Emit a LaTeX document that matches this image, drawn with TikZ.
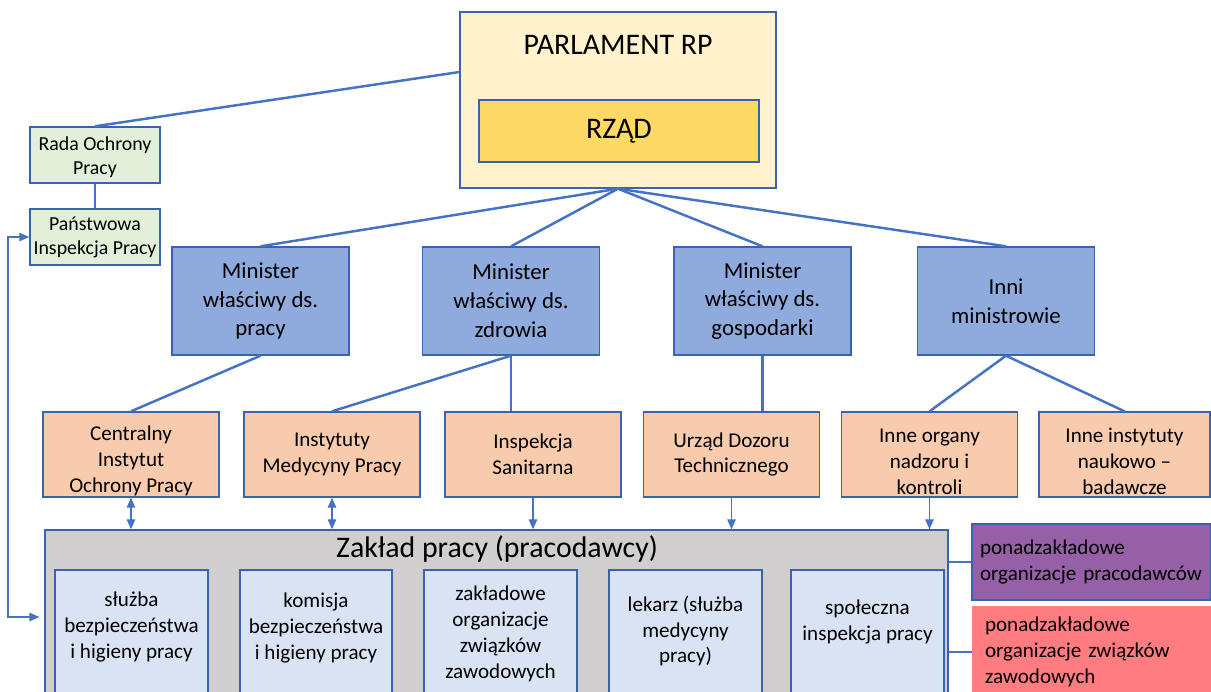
\documentclass[tikz,border=0pt]{standalone}
\usepackage{fontspec}
\setmainfont{Carlito}
\usetikzlibrary{arrows.meta, positioning, calc}
\usepackage{xcolor}

\definecolor{linkblue}{HTML}{4472C4}
\definecolor{edgeblue}{HTML}{3A63AE}
\definecolor{parlfill}{HTML}{FFF2CC}
\definecolor{rzadfill}{HTML}{FFD966}
\definecolor{radafill}{HTML}{E2F0D9}
\definecolor{ministerfill}{HTML}{8FAADC}
\definecolor{urzadfill}{HTML}{F8CBAD}
\definecolor{zakladfill}{HTML}{D0CECE}
\definecolor{cellfill}{HTML}{DAE3F3}
\definecolor{pracodfill}{HTML}{9660A6}
\definecolor{zwiazekfill}{HTML}{FF7C80}

\tikzset{
  orgbox/.style={draw=edgeblue, line width=0.8pt, align=center, inner sep=0pt},
  parlbox/.style={orgbox, fill=parlfill},
  rzadbox/.style={orgbox, fill=rzadfill, minimum width=5.6cm, minimum height=1.24cm, font=\fontsize{17}{20}\selectfont},
  radabox/.style={orgbox, fill=radafill, minimum width=2.6cm, minimum height=1.12cm, font=\fontsize{11.3}{13.6}\selectfont},
  ministerbox/.style={orgbox, fill=ministerfill, minimum width=3.54cm, minimum height=2.16cm, font=\fontsize{13}{16.4}\selectfont},
  urzadbox/.style={orgbox, fill=urzadfill, minimum width=3.52cm, minimum height=1.7cm, font=\fontsize{12}{14.7}\selectfont},
  zakladbox/.style={orgbox, fill=zakladfill},
  cellbox/.style={draw=edgeblue, line width=0.8pt, fill=cellfill},
  celltext/.style={align=center, inner sep=0pt, font=\fontsize{12}{14.7}\selectfont},
  sidebox/.style={align=left, inner ysep=0pt, minimum height=1.52cm, text width=4.46cm, font=\fontsize{12}{14.7}\selectfont},
  bigtitle/.style={inner sep=0pt, font=\fontsize{17}{20}\selectfont},
  link/.style={draw=linkblue, line width=1.4pt},
  feed/.style={draw=linkblue, line width=0.7pt, -{Triangle[length=0.2cm, width=0.17cm]}},
  feedboth/.style={feed, {Triangle[length=0.2cm, width=0.17cm]}-{Triangle[length=0.2cm, width=0.17cm]}},
}

\begin{document}
\begin{tikzpicture}[x=0.02cm, y=-0.02cm]
\useasboundingbox (0,0) rectangle (1211,691);
\clip (0,0) rectangle (1211,691);

% top level
\node[parlbox, minimum width=6.32cm, minimum height=3.52cm] (parl) at (618,100) {};
\node[bigtitle] (parltitle) at (618,45) {PARLAMENT RP};
\node[rzadbox] (rzad) at (619,131) {RZĄD};

\node[radabox] (rada) at (95,155) {\rule{0pt}{0.38cm}Rada Ochrony\\Pracy};
\node[radabox] (pip) at (95,237) {Państwowa\\Inspekcja Pracy};

% ministers
\node[ministerbox] (minpracy) at (260.5,301) {Minister\\właściwy ds.\\pracy};
\node[ministerbox] (minzdrowia) at (511,301) {Minister\\właściwy ds.\\zdrowia};
\node[ministerbox] (mingosp) at (762.5,301) {Minister\\właściwy ds.\\gospodarki};
\node[ministerbox] (mininni) at (1006,301) {Inni\\ministrowie};

% offices
\node[urzadbox] (ciop) at (131,454.5) {\rule{0pt}{0.56cm}Centralny\\Instytut\\Ochrony Pracy};
\node[urzadbox] (imp) at (332,454.5) {Instytuty\\Medycyny Pracy};
\node[urzadbox] (sanit) at (533,454.5) {Inspekcja\\Sanitarna};
\node[urzadbox] (udt) at (731.5,454.5) {Urząd Dozoru\\Technicznego};
\node[urzadbox] (nadzor) at (929.5,454.5) {\rule{0pt}{0.56cm}Inne organy\\nadzoru i\\kontroli};
\node[urzadbox, minimum width=3.42cm] (naukowe) at (1124.5,454.5) {\rule{0pt}{0.56cm}Inne instytuty\\naukowo --\\badawcze};

% workplace
\node[zakladbox, minimum width=18.06cm, minimum height=3.4cm] (zaklad) at (496.5,615) {};
\node[bigtitle] (zakladtitle) at (497,549) {Zakład pracy (pracodawcy)};

\draw[cellbox] (55,570) rectangle (208,700);
\draw[cellbox] (240,570) rectangle (392,700);
\draw[cellbox] (424,570) rectangle (577,700);
\draw[cellbox] (609,570) rectangle (762,700);
\draw[cellbox] (791,570) rectangle (944,700);
\node[celltext] (sluzba) at (131.5,627) {służba\\bezpieczeństwa\\i higieny pracy};
\node[celltext] (komisja) at (316,628) {komisja\\bezpieczeństwa\\i higieny pracy};
\node[celltext] (zwiazki) at (500.5,634) {zakładowe\\organizacje\\związków\\zawodowych};
\node[celltext] (lekarz) at (685.5,631) {lekarz (służba\\medycyny\\pracy)};
\node[celltext] (spoleczna) at (867.5,622) {społeczna\\inspekcja pracy};

\node[sidebox, draw=edgeblue, line width=0.8pt, fill=pracodfill, inner xsep=0.16cm] (pracod) at (1091.5,562) {ponadzakładowe\\organizacje pracodawców};
\node[sidebox, fill=zwiazekfill, minimum height=1.84cm, text width=4.26cm, inner xsep=0.26cm] (zwiazek) at (1091.5,652) {ponadzakładowe\\organizacje związków\\zawodowych};

% connectors
\draw[link] (rada.north) -- ([yshift=0.56cm]parl.west);
\draw[link] (rada.south) -- (pip.north);
\foreach \m in {minpracy, minzdrowia, mingosp, mininni}
  \draw[link] (parl.south) -- (\m.north);
\draw[link] (minpracy.south) -- (ciop.north);
\draw[link] (minzdrowia.south) -- (imp.north);
\draw[link] (minzdrowia.south) -- (minzdrowia.south |- sanit.north);
\draw[link] (mingosp.south) -- (mingosp.south |- udt.north);
\draw[link] (mininni.south) -- (nadzor.north);
\draw[link] (mininni.south) -- (naukowe.north);

\draw[feedboth] (ciop.south) -- (ciop.south |- zaklad.north);
\draw[feedboth] (imp.south) -- (imp.south |- zaklad.north);
\foreach \u in {sanit, udt, nadzor}
  \draw[feed] (\u.south) -- (\u.south |- zaklad.north);

\coordinate (loopcorner) at (8,617);
\draw[feedboth, shorten >=0.1cm] (pip.west) -| (loopcorner) -- (loopcorner -| zaklad.west);

\draw[link, line width=1pt] (pracod.west -| zaklad.east) -- (pracod.west);
\draw[link, line width=1pt] (zwiazek.west -| zaklad.east) -- (zwiazek.west);
\end{tikzpicture}
\end{document}
